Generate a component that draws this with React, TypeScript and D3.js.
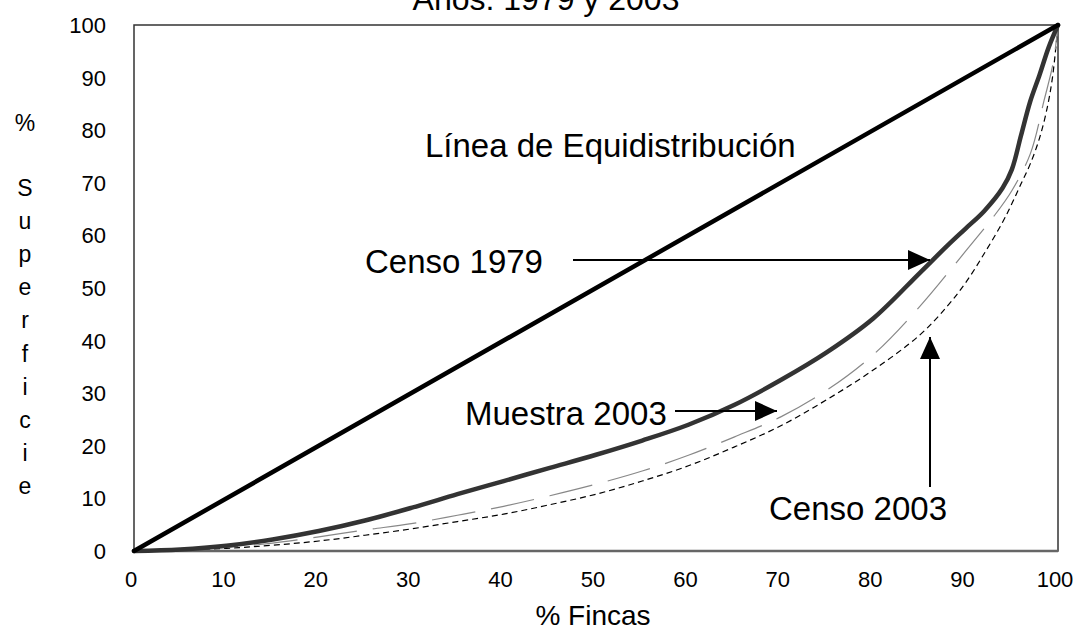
import * as d3 from 'd3';

// % fincas (x) and % superficie (y) for each Lorenz curve
const equiX = [0, 100];
const equiY = [0, 100];

const censo1979X = [0, 5, 10, 15, 20, 25, 30, 35, 40, 45, 50, 55, 60, 65, 70, 75, 80, 85, 88, 90, 92, 94, 95, 96, 97, 98, 99, 100];
const censo1979Y = [0, 0.3, 1.0, 2.2, 3.8, 5.8, 8.2, 10.8, 13.3, 15.8, 18.3, 21.0, 24.0, 27.8, 32.5, 37.8, 44.2, 52.8, 58, 61.3, 64.6, 69, 72.5, 79, 85.5, 90.5, 95.8, 100];

const muestra2003X = [0, 10, 15, 20, 25, 30, 35, 40, 45, 50, 55, 60, 65, 70, 75, 80, 85, 90, 93, 95, 97, 98.5, 99.5, 100];
const muestra2003Y = [0, 0.7, 1.5, 2.7, 4.0, 5.2, 6.8, 8.5, 10.5, 12.7, 15.2, 18.2, 21.7, 25.5, 30.6, 37.3, 46.4, 57, 63.5, 68.5, 75.5, 85.7, 93, 100];

const censo2003X = [0, 10, 15, 20, 25, 30, 35, 40, 45, 50, 55, 60, 65, 70, 75, 80, 85, 88, 90, 92, 94, 95, 96, 97, 98, 98.8, 99.4, 100];
const censo2003Y = [0, 0.5, 1.1, 1.9, 3.0, 4.2, 5.6, 7.0, 8.8, 10.8, 13.3, 16.2, 19.8, 23.8, 28.8, 34.4, 41, 46.5, 51, 56.5, 62.5, 66, 69.8, 73.6, 78.5, 84, 90, 100];

const xTicks = [0, 10, 20, 30, 40, 50, 60, 70, 80, 90, 100];
const yTicks = [0, 10, 20, 30, 40, 50, 60, 70, 80, 90, 100];
const yTitleLetters = ['S', 'u', 'p', 'e', 'r', 'f', 'i', 'c', 'i', 'e'];

const W = 1076;
const H = 633;
const font = 'Arial, "Liberation Sans", sans-serif';

const App = () => {
    const x = d3.scaleLinear().domain([0, 100]).range([134, 1058]);
    const y = d3.scaleLinear().domain([0, 100]).range([551, 25]);

    const line = d3.line<[number, number]>()
        .x(d => x(d[0]))
        .y(d => y(d[1]))
        .curve(d3.curveCatmullRom.alpha(0.5));

    const zip = (xs: number[], ys: number[]) => xs.map((v, i) => [v, ys[i]] as [number, number]);

    return (
        <svg width={W} height={H} style={{ position: 'absolute', left: 0, top: 0, background: '#fff' }} fontFamily={font}>
            <defs>
                <marker id="head" viewBox="0 0 22 20" refX="22" refY="10" markerWidth="22" markerHeight="20" markerUnits="userSpaceOnUse" orient="auto">
                    <path d="M0,0 L22,10 L0,20 Z" fill="#000" />
                </marker>
            </defs>

            {/* title, cut at the top */}
            <text x={546} y={10} textAnchor="middle" fontSize={32}>Años: 1979 y 2003</text>

            {/* plot frame */}
            <rect x={x(0)} y={y(100)} width={x(100) - x(0)} height={y(0) - y(100)} fill="none" stroke="#333" strokeWidth={1.5} />
            <line x1={x(0)} x2={x(100)} y1={y(0)} y2={y(0)} stroke="#666" strokeWidth={2.5} />

            {/* tick labels */}
            {yTicks.map(t => (
                <text key={'y' + t} x={106} y={y(t) + 8} textAnchor="end" fontSize={22}>{t}</text>
            ))}
            {xTicks.map(t => (
                <text key={'x' + t} x={x(t) - 3} y={587} textAnchor="middle" fontSize={22}>{t}</text>
            ))}

            {/* axis titles */}
            <text x={593} y={625} textAnchor="middle" fontSize={28}>% Fincas</text>
            <text x={25} y={123} textAnchor="middle" dominantBaseline="central" fontSize={23}>%</text>
            {yTitleLetters.map((c, i) => (
                <text key={'l' + i} x={25} y={188 + i * 33.1} textAnchor="middle" dominantBaseline="central" fontSize={23}>{c}</text>
            ))}

            {/* curves */}
            <path d={line(zip(censo2003X, censo2003Y)) ?? ''} fill="none" stroke="#000" strokeWidth={1.2} strokeDasharray="6,4" />
            <path d={line(zip(muestra2003X, muestra2003Y)) ?? ''} fill="none" stroke="#888" strokeWidth={1.2} strokeDasharray="44,16" />
            <path d={line(zip(censo1979X, censo1979Y)) ?? ''} fill="none" stroke="#333" strokeWidth={4.5} strokeLinecap="round" />
            <path d={line(zip(equiX, equiY)) ?? ''} fill="none" stroke="#000" strokeWidth={4.5} strokeLinecap="round" />

            {/* annotations */}
            <text x={425} y={157} fontSize={33}>Línea de Equidistribución</text>

            <text x={365} y={273} fontSize={33}>Censo 1979</text>
            <line x1={573} x2={930} y1={260} y2={260} stroke="#000" strokeWidth={2} markerEnd="url(#head)" />

            <text x={465} y={425} fontSize={33}>Muestra 2003</text>
            <line x1={675} x2={777} y1={411} y2={411} stroke="#000" strokeWidth={2} markerEnd="url(#head)" />

            <text x={947} y={520} textAnchor="end" fontSize={33}>Censo 2003</text>
            <line x1={930} x2={930} y1={487} y2={337} stroke="#000" strokeWidth={2} markerEnd="url(#head)" />
        </svg>
    );
};

export default App;
